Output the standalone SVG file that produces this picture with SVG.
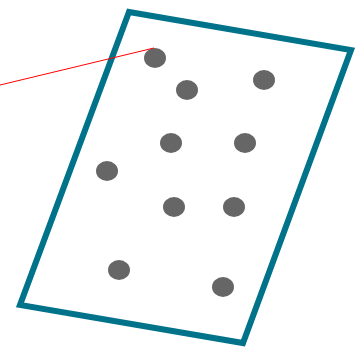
<svg xmlns="http://www.w3.org/2000/svg" width="360" height="354" viewBox="0 0 360 354">
<style>
.frame{fill:none;stroke:#00728a;stroke-width:6;stroke-linejoin:miter}
.dot{fill:#666666}
.link{stroke:#ff0000;stroke-width:1;fill:none}
</style>
<rect width="360" height="354" fill="#ffffff"/>
<g id="frame"><polygon class="frame" points="129,12 351,50 243,343 20,305"/></g>
<g id="dot1"><ellipse class="dot" cx="155" cy="58" rx="11" ry="10"/></g>
<g id="dot2"><ellipse class="dot" cx="187" cy="90" rx="11" ry="10"/></g>
<g id="dot3"><ellipse class="dot" cx="264" cy="80" rx="11" ry="10"/></g>
<g id="dot4"><ellipse class="dot" cx="171" cy="143" rx="11" ry="10"/></g>
<g id="dot5"><ellipse class="dot" cx="245" cy="143" rx="11" ry="10"/></g>
<g id="dot6"><ellipse class="dot" cx="107" cy="171" rx="11" ry="10"/></g>
<g id="dot7"><ellipse class="dot" cx="174" cy="207" rx="11" ry="10"/></g>
<g id="dot8"><ellipse class="dot" cx="234" cy="207" rx="11" ry="10"/></g>
<g id="dot9"><ellipse class="dot" cx="119" cy="270" rx="11" ry="10"/></g>
<g id="dot10"><ellipse class="dot" cx="223" cy="287" rx="11" ry="10"/></g>
<g id="connectors"><line class="link" x1="0" y1="85" x2="154" y2="48"/></g>
</svg>
